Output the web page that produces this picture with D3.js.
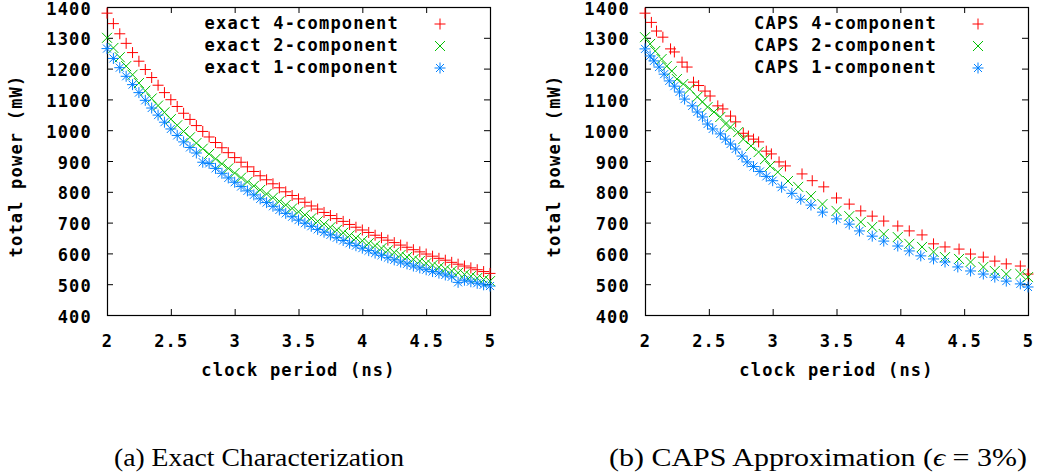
<!DOCTYPE html>
<html>
<head>
<meta charset="utf-8">
<script src="https://cdn.jsdelivr.net/npm/d3@7"></script>
<style>
  body { margin: 0; background: #fff; }
  .mono { font-family: 'DejaVu Sans Mono', monospace; font-weight: bold; font-size: 17px; letter-spacing: 1.2px; }
</style>
</head>
<body>
<script>
// clock periods (ns) for the exact characterization
const periods = [2.00, 2.05, 2.10, 2.15, 2.20, 2.25, 2.30, 2.35, 2.40, 2.45, 2.50, 2.55, 2.60, 2.65, 2.70, 2.75, 2.80, 2.85, 2.90, 2.95,
  3.00, 3.05, 3.10, 3.15, 3.20, 3.25, 3.30, 3.35, 3.40, 3.45, 3.50, 3.55, 3.60, 3.65, 3.70, 3.75, 3.80, 3.85, 3.90, 3.95,
  4.00, 4.05, 4.10, 4.15, 4.20, 4.25, 4.30, 4.35, 4.40, 4.45, 4.50, 4.55, 4.60, 4.65, 4.70, 4.75, 4.80, 4.85, 4.90, 4.95, 5.00]

const exact4 = [1380, 1346, 1313, 1282, 1252, 1224, 1197, 1171, 1146, 1122, 1099, 1077, 1055, 1035, 1015, 996, 978, 960, 943, 927,
  911, 896, 881, 866, 852, 839, 826, 813, 800, 788, 777, 766, 754, 744, 733, 723, 713, 704, 694, 685,
  676, 668, 659, 651, 643, 635, 627, 620, 612, 605, 598, 591, 584, 578, 571, 565, 559, 553, 547, 541, 535]

const exact2 = [1300, 1267, 1237, 1208, 1180, 1153, 1128, 1103, 1080, 1058, 1036, 1016, 996, 977, 958, 940, 923, 907, 891, 876,
  861, 846, 832, 819, 806, 793, 781, 769, 757, 746, 735, 725, 714, 704, 695, 685, 676, 667, 658, 650,
  641, 633, 625, 617, 610, 603, 595, 588, 581, 575, 568, 562, 555, 549, 543, 537, 532, 526, 520, 515, 510]

const exact1 = [1265, 1233, 1203, 1175, 1148, 1122, 1097, 1072, 1049, 1026, 1004, 983, 962, 944, 926, 896, 892, 876, 860, 845,
  831, 817, 803, 790, 777, 765, 753, 741, 730, 719, 708, 698, 688, 678, 669, 660, 651, 642, 633, 625,
  617, 609, 601, 594, 586, 579, 572, 566, 559, 553, 547, 541, 536, 530, 524, 506, 513, 508, 503, 498, 494]

// CAPS approximation: each series has its own sampled periods
const caps4Periods = [2.00, 2.05, 2.09, 2.14, 2.20, 2.23, 2.29, 2.33, 2.38, 2.42, 2.47, 2.51, 2.57, 2.61, 2.67, 2.71, 2.77, 2.81, 2.85, 2.89,
  2.95, 2.99, 3.05, 3.10, 3.23, 3.31, 3.40, 3.50, 3.60, 3.69, 3.78, 3.87, 3.98, 4.07, 4.17, 4.26, 4.35, 4.46, 4.55, 4.65,
  4.74, 4.83, 4.94, 5.00]
const caps4 = [1380, 1350, 1322, 1302, 1264, 1254, 1221, 1205, 1156, 1145, 1127, 1111, 1079, 1069, 1046, 1027, 990, 981, 971, 962,
  932, 923, 897, 884, 858, 836, 816, 780, 760, 738, 721, 705, 689, 673, 660, 631, 621, 614, 598, 588,
  575, 566, 559, 533]

const caps2Periods = [2.00, 2.04, 2.08, 2.13, 2.17, 2.21, 2.25, 2.30, 2.35, 2.41, 2.45, 2.49, 2.54, 2.59, 2.63, 2.67, 2.73, 2.77, 2.83, 2.89,
  2.94, 2.98, 3.04, 3.12, 3.20, 3.30, 3.39, 3.50, 3.60, 3.69, 3.78, 3.87, 3.98, 4.07, 4.17, 4.26, 4.35, 4.46, 4.55, 4.65,
  4.74, 4.83, 4.94, 5.00]
const caps2 = [1302, 1280, 1257, 1231, 1208, 1192, 1166, 1150, 1134, 1108, 1092, 1075, 1059, 1043, 1020, 1010, 994, 971, 949, 929,
  906, 884, 864, 835, 816, 786, 760, 738, 721, 702, 686, 663, 653, 631, 621, 605, 588, 582, 572, 556,
  543, 533, 533, 523]

const caps1Periods = [2.00, 2.04, 2.07, 2.11, 2.15, 2.19, 2.23, 2.27, 2.31, 2.37, 2.41, 2.45, 2.49, 2.53, 2.59, 2.63, 2.67, 2.71, 2.76, 2.80,
  2.85, 2.90, 2.95, 3.00, 3.07, 3.15, 3.22, 3.30, 3.39, 3.50, 3.60, 3.68, 3.78, 3.87, 3.98, 4.07, 4.16, 4.26, 4.35, 4.45,
  4.55, 4.65, 4.74, 4.83, 4.94, 5.00]
const caps1 = [1264, 1241, 1225, 1205, 1182, 1160, 1143, 1124, 1101, 1079, 1059, 1043, 1020, 1004, 988, 971, 955, 939, 916, 897,
  882, 866, 850, 836, 815, 795, 776, 757, 734, 712, 695, 673, 656, 640, 624, 608, 592, 582, 572, 556,
  543, 533, 523, 510, 501, 491]

const xTicks = [2, 2.5, 3, 3.5, 4, 4.5, 5]
const yTicks = [400, 500, 600, 700, 800, 900, 1000, 1100, 1200, 1300, 1400]

const colors = { red: '#ff0000', green: '#00c000', blue: '#0080ff' }

const symbols = {
  plus: 'M-5.5,0H5.5M0,-5.5V5.5',
  cross: 'M-5,-5L5,5M-5,5L5,-5',
  star: 'M-5.5,0H5.5M0,-5.5V5.5M-4,-4L4,4M-4,4L4,-4'
}

const svg = d3.select('body').append('svg')
  .attr('width', 1040)
  .attr('height', 474)

const plotTop = 7
const plotBottom = 315

function drawPanel(left, right, series, caption, captionX, captionWidth) {
  const x = d3.scaleLinear().domain([2, 5]).range([left, right])
  const y = d3.scaleLinear().domain([400, 1400]).range([plotBottom, plotTop])
  const g = svg.append('g')

  // axes with inward ticks
  const xAxis = g.append('g')
    .attr('transform', `translate(0,${plotBottom})`)
    .call(d3.axisBottom(x).tickValues(xTicks).tickFormat(d3.format('')).tickSize(-6).tickSizeOuter(0).tickPadding(20))
  const yAxis = g.append('g')
    .attr('transform', `translate(${left},0)`)
    .call(d3.axisLeft(y).tickValues(yTicks).tickFormat(d3.format('d')).tickSize(-6).tickSizeOuter(0).tickPadding(15))
  g.append('g')
    .attr('transform', `translate(0,${plotTop})`)
    .call(d3.axisTop(x).tickValues(xTicks).tickSize(-6).tickSizeOuter(0).tickFormat(''))
  g.append('g')
    .attr('transform', `translate(${right},0)`)
    .call(d3.axisRight(y).tickValues(yTicks).tickSize(-6).tickSizeOuter(0).tickFormat(''))

  g.selectAll('.tick line').attr('stroke', '#000')
  g.selectAll('.domain').remove()
  ;[xAxis, yAxis].forEach(a => {
    a.attr('font-family', null).attr('font-size', null)
    a.selectAll('text').attr('class', 'mono').attr('fill', '#000')
  })
  yAxis.selectAll('text').attr('dy', '0.42em')

  g.append('rect')
    .attr('x', left + 0.5)
    .attr('y', plotTop + 0.5)
    .attr('width', right - left)
    .attr('height', plotBottom - plotTop)
    .attr('fill', 'none')
    .attr('stroke', '#000')
    .attr('stroke-width', 1.2)

  // points
  series.forEach(s => {
    g.append('g')
      .selectAll('path')
      .data(s.values.map((v, i) => ({ p: s.periods[i], v: v })))
      .enter()
      .append('path')
      .attr('d', symbols[s.symbol])
      .attr('transform', d => `translate(${x(d.p)},${y(d.v)})`)
      .attr('fill', 'none')
      .attr('stroke', s.color)
      .attr('stroke-width', 1)
  })

  // legend
  series.forEach((s, i) => {
    g.append('text')
      .attr('class', 'mono')
      .attr('x', right - 91)
      .attr('y', 29 + i * 22)
      .attr('text-anchor', 'end')
      .text(s.name)
    g.append('path')
      .attr('d', symbols[s.symbol])
      .attr('transform', `translate(${right - 50},${24 + i * 22})`)
      .attr('fill', 'none')
      .attr('stroke', s.color)
  })

  // axis titles
  g.append('text')
    .attr('class', 'mono')
    .attr('transform', `translate(${left - 91},166) rotate(-90)`)
    .attr('text-anchor', 'middle')
    .attr('dominant-baseline', 'central')
    .text('total power (mW)')
  g.append('text')
    .attr('class', 'mono')
    .attr('x', (left + right) / 2)
    .attr('y', 376)
    .attr('text-anchor', 'middle')
    .text('clock period (ns)')

  svg.append('text')
    .attr('x', captionX)
    .attr('y', 466)
    .attr('text-anchor', 'middle')
    .attr('textLength', captionWidth)
    .attr('lengthAdjust', 'spacingAndGlyphs')
    .style('font-family', "'Liberation Serif', serif")
    .style('font-size', '26px')
    .html(caption)
}

drawPanel(107, 490, [
  { name: 'exact 4-component', periods: periods, values: exact4, symbol: 'plus', color: colors.red },
  { name: 'exact 2-component', periods: periods, values: exact2, symbol: 'cross', color: colors.green },
  { name: 'exact 1-component', periods: periods, values: exact1, symbol: 'star', color: colors.blue }
], '(a) Exact Characterization', 259, 290)

drawPanel(645, 1028, [
  { name: 'CAPS 4-component', periods: caps4Periods, values: caps4, symbol: 'plus', color: colors.red },
  { name: 'CAPS 2-component', periods: caps2Periods, values: caps2, symbol: 'cross', color: colors.green },
  { name: 'CAPS 1-component', periods: caps1Periods, values: caps1, symbol: 'star', color: colors.blue }
], '(b) CAPS Approximation (<tspan font-style="italic">ϵ</tspan> = 3%)', 818, 418)
</script>
</body>
</html>
